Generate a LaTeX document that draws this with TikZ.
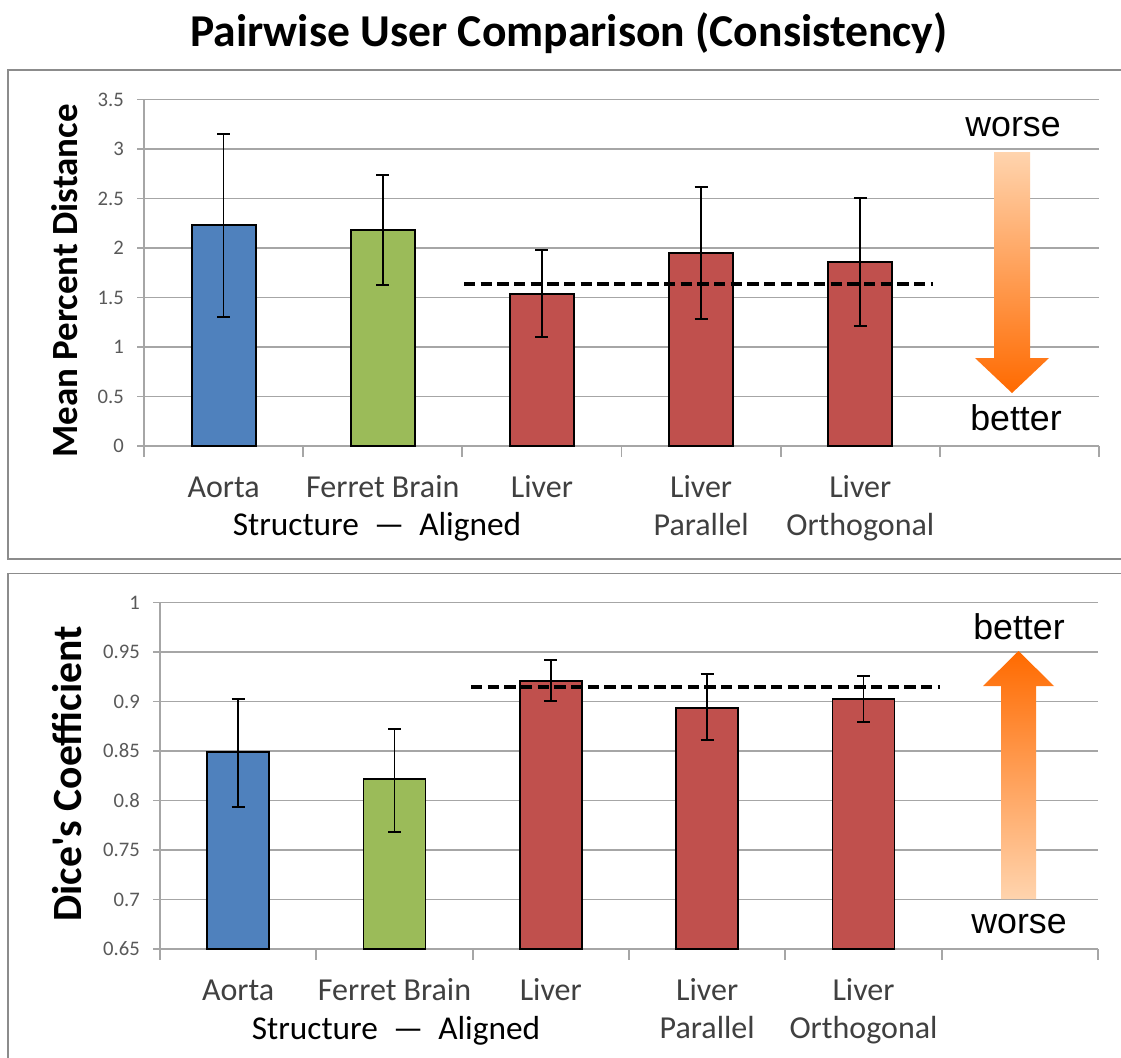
\documentclass[tikz,border=0pt]{standalone}
\usepackage{fontspec}
\setmainfont{Carlito}
\newfontfamily\plaincarlito{Carlito}
\newfontfamily\arialf{Liberation Sans}
\definecolor{barblue}{HTML}{4F81BD}
\definecolor{bargreen}{HTML}{9BBB59}
\definecolor{barred}{HTML}{C0504D}
\definecolor{framegray}{HTML}{8C8C8C}
\definecolor{gridgray}{HTML}{A6A6A6}
\definecolor{ticktext}{HTML}{595959}
\definecolor{cattext}{HTML}{404040}
\definecolor{orangedark}{HTML}{FF6A00}
\definecolor{orangelight}{HTML}{FFD4AE}
\begin{document}
\begin{tikzpicture}[x=0.75pt,y=-0.75pt,
  panel/.style={draw=framegray,line width=1.3pt},
  gridline/.style={draw=gridgray,line width=1.3pt},
  bar/.style={draw=black,line width=1.4pt},
  errbar/.style={draw=black,line width=1.3pt},
  meanline/.style={draw=black,line width=3pt,dash pattern=on 8.5pt off 4pt},
  ticklab/.style={font=\fontsize{15.5}{18}\selectfont,text=ticktext,inner sep=0pt,anchor=east},
  catlab/.style={font=\fontsize{24}{28}\selectfont,text=cattext,inner sep=0pt,anchor=base},
  axlab/.style={font=\fontsize{25}{30}\selectfont,text=black,inner sep=0pt,anchor=base},
  ylab/.style={font=\bfseries\fontsize{27.7}{32}\selectfont,inner sep=0pt,rotate=90,anchor=center},
  hint/.style={font=\arialf\fontsize{26.8}{32}\selectfont,inner sep=0pt,anchor=base},
]
\useasboundingbox (0,0) rectangle (1121,1057);
\clip (0,0) rectangle (1121,1057);
\fill[white] (0,0) rectangle (1121,1057);

% title
\node[font=\bfseries\fontsize{34.2}{40}\selectfont,inner sep=0pt,anchor=base] (title) at (569,46) {Pairwise User Comparison (Consistency)};

% ================= top panel =================
\draw[panel] (8,70) rectangle (1135,559);
\foreach \k in {0,...,7} {\draw[gridline] (137,446-49.5*\k) -- (1099,446-49.5*\k);}
\draw[gridline] (144,99.5) -- (144,457);
\foreach \k in {1,...,6} {\draw[gridline] (144+159.17*\k,446) -- (144+159.17*\k,457);}
\foreach \lab [count=\k from 0] in {0,0.5,1,1.5,2,2.5,3,3.5}
  {\node[ticklab] (tA\k) at (124,446-49.5*\k) {\lab};}
\foreach \cx/\ty/\et/\eb/\col [count=\i] in
  {223.6/225/134/317/barblue, 382.8/230.3/175.3/285.3/bargreen, 541.9/294.3/250.3/337.3/barred,
   701.1/253/186.7/319.3/barred, 860.3/262/198/326.3/barred}
{
  \draw[bar,fill=\col] (\cx-32,446) rectangle (\cx+32,\ty);
  \draw[errbar] (\cx,\et) -- (\cx,\eb);
  \draw[errbar] (\cx-6.5,\et) -- (\cx+6.5,\et);
  \draw[errbar] (\cx-6.5,\eb) -- (\cx+6.5,\eb);
}
\coordinate (mA1) at (464,284.3);
\coordinate (mA2) at (933,284.3);
\draw[meanline] (mA1) -- (mA2);
\node[catlab] (cA1) at (223.6,497) {Aorta};
\node[catlab] (cA2) at (382.8,497) {Ferret Brain};
\node[catlab] (cA3) at (541.9,497) {Liver};
\node[catlab] (cA4) at (701.1,497) {Liver};
\node[catlab] (cA5) at (701.1,535) {Parallel};
\node[catlab] (cA6) at (860.3,497) {Liver};
\node[catlab] (cA7) at (860.3,535) {Orthogonal};
\node[axlab] (xA) at (377,535) {Structure\ \ —\ \ Aligned};
\node[ylab] (yA) at (65,281) {Mean Percent Distance};
\shade[top color=orangelight,bottom color=orangedark]
  (994,152) -- (1030,152) -- (1030,358) -- (1049,358) -- (1012,393) -- (975,358) -- (994,358) -- cycle;
\node[hint] (wA) at (1013,136) {worse};
\node[hint] (bA) at (1016,430) {better};

% ================= bottom panel =================
\draw[panel] (8,573.5) rectangle (1135,1070);
\foreach \k in {0,...,7} {\draw[gridline] (153,949-49.5*\k) -- (1098,949-49.5*\k);}
\draw[gridline] (160,602.5) -- (160,960);
\foreach \k in {1,...,6} {\draw[gridline] (160+156.33*\k,949) -- (160+156.33*\k,960);}
\foreach \lab [count=\k from 0] in {0.65,0.7,0.75,0.8,0.85,0.9,0.95,1}
  {\node[ticklab] (tB\k) at (140,949-49.5*\k) {\lab};}
\foreach \cx/\ty/\et/\eb/\col [count=\i] in
  {238.2/752/699/807/barblue, 394.5/779/729/832.3/bargreen, 550.8/680.7/660/701.3/barred,
   707.2/708.3/674/740.3/barred, 863.5/699.3/676.3/722.3/barred}
{
  \draw[bar,fill=\col] (\cx-31,949) rectangle (\cx+31,\ty);
  \draw[errbar] (\cx,\et) -- (\cx,\eb);
  \draw[errbar] (\cx-6.5,\et) -- (\cx+6.5,\et);
  \draw[errbar] (\cx-6.5,\eb) -- (\cx+6.5,\eb);
}
\coordinate (mB1) at (471,687);
\coordinate (mB2) at (940,687);
\draw[meanline] (mB1) -- (mB2);
\node[catlab] (cB1) at (238.2,1000) {Aorta};
\node[catlab] (cB2) at (394.5,1000) {Ferret Brain};
\node[catlab] (cB3) at (550.8,1000) {Liver};
\node[catlab] (cB4) at (707.2,1000) {Liver};
\node[catlab] (cB5) at (707.2,1038) {Parallel};
\node[catlab] (cB6) at (863.5,1000) {Liver};
\node[catlab] (cB7) at (863.5,1038) {Orthogonal};
\node[axlab] (xB) at (396,1039) {Structure\ \ —\ \ Aligned};
\node[ylab,font=\plaincarlito\bfseries\fontsize{31.2}{36}\selectfont] (yB) at (67,774) {Dice's Coefficient};
\shade[top color=orangedark,bottom color=orangelight]
  (1001,899) -- (1036,899) -- (1036,686) -- (1054,686) -- (1018.5,651) -- (983,686) -- (1001,686) -- cycle;
\node[hint] (bB) at (1019,639) {better};
\node[hint] (wB) at (1019,933) {worse};
\end{tikzpicture}
\end{document}
